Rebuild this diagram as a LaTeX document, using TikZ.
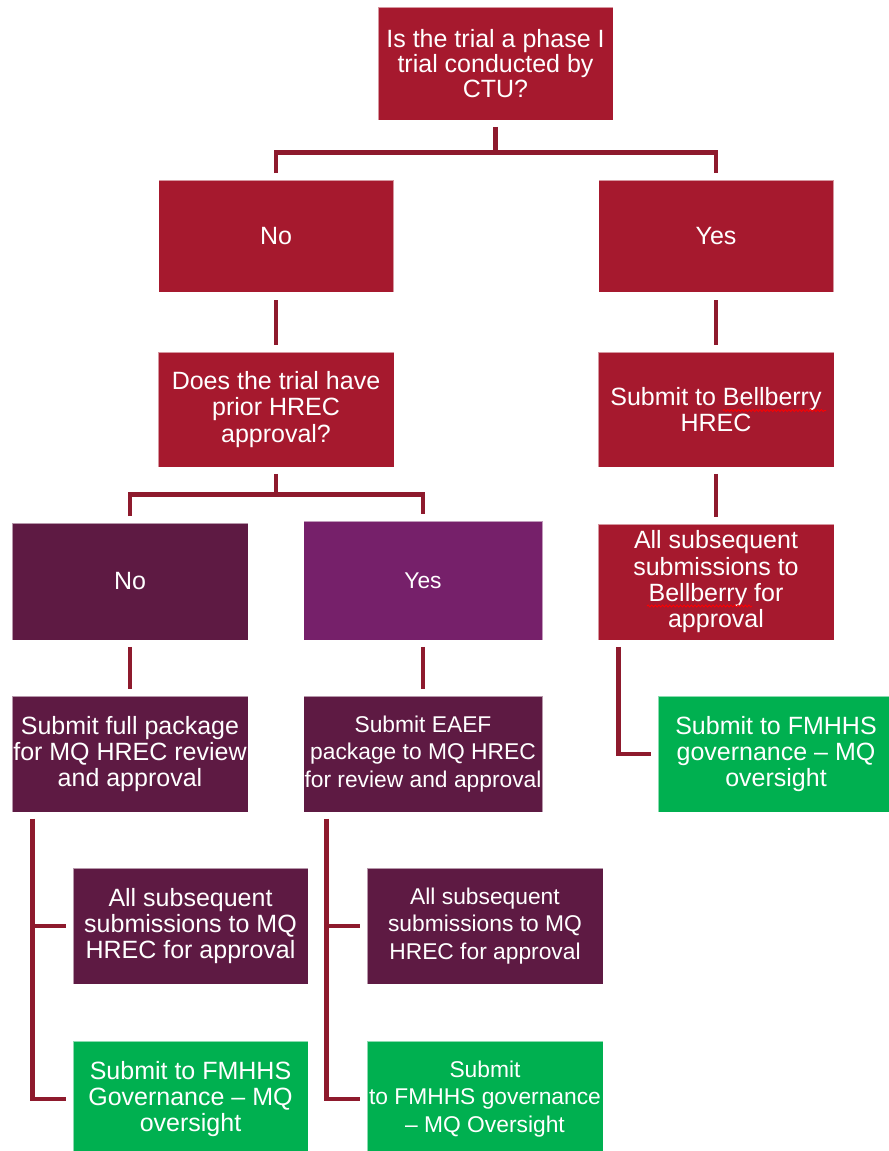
\documentclass[tikz,border=0pt]{standalone}
\usepackage{fontspec}
\setmainfont{Liberation Sans}
\usetikzlibrary{calc,decorations.pathmorphing}

\definecolor{mqred}{HTML}{A6192E}
\definecolor{mqplum}{HTML}{5E1A43}
\definecolor{mqpurple}{HTML}{76206A}
\definecolor{mqgreen}{HTML}{00B050}
\definecolor{linkred}{HTML}{8E1A2D}

\begin{document}
\begin{tikzpicture}[x=0.75pt,y=-0.75pt,
  link/.style={draw=linkred, line width=3.6pt, shorten <=5pt, shorten >=5pt},
  wavy/.style={draw=red, line width=0.6pt, decorate,
    decoration={snake, segment length=2.7pt, amplitude=0.8pt}},
  small/.style={font=\fontsize{17.1pt}{20.5pt}\selectfont}]
\useasboundingbox (0,0) rectangle (888,1151);
\begin{scope}[every node/.style={rectangle, draw=white, draw opacity=0.55, line width=0.4pt,
    text=white, align=center, inner sep=0pt, minimum width=177pt, minimum height=87pt,
    font=\fontsize{18.75pt}{19.75pt}\selectfont}]

    \node [fill=mqred, minimum width=176.25pt, minimum height=84.75pt,
      font=\fontsize{18.75pt}{18.75pt}\selectfont] (q1) at (495.5,63.5)
      {Is the trial a phase I\\trial conducted by\\CTU?};
    \node [fill=mqred, minimum width=176.25pt, minimum height=84pt] (no1) at (276,236) {No};
    \node [fill=mqred, minimum width=176.25pt, minimum height=84pt] (yes1) at (716,236) {Yes};

    \node [fill=mqred, minimum height=86.25pt] (q2) at (276,409.5)
      {Does the trial have\\prior HREC\\approval?};
    \node [fill=mqred, minimum height=86.25pt] (bell) at (716,409.5)
      {Submit to Bellberry\\HREC};

    \node [fill=mqplum, minimum height=87.75pt] (no2) at (130,581.5) {No};
    \node [fill=mqpurple, small, minimum width=179.25pt, minimum height=89.25pt] (yes2) at (423,580.5) {Yes};
    \node [fill=mqred] (bell2) at (716,582)
      {All subsequent\\submissions to\\Bellberry for\\approval};

    \node [fill=mqplum] (a) at (130,754)
      {Submit full package\\for MQ HREC review\\and approval};
    \node [fill=mqplum, small, minimum width=179.25pt] (b) at (423,754)
      {Submit EAEF\\package to MQ HREC\\for review and approval};
    \node [fill=mqgreen] (g1) at (776,754)
      {Submit to FMHHS\\governance -- MQ\\oversight};

    \node [fill=mqplum, minimum width=176.25pt] (c) at (190.5,926)
      {All subsequent\\submissions to MQ\\HREC for approval};
    \node [fill=mqplum, small] (e) at (485,926)
      {All subsequent\\submissions to MQ\\HREC for approval};

    \node [fill=mqgreen, minimum width=176.25pt] (d) at (190.5,1099)
      {Submit to FMHHS\\Governance -- MQ\\oversight};
    \node [fill=mqgreen, small] (f) at (485,1099)
      {Submit\\to FMHHS governance\\-- MQ Oversight};

\end{scope}

    % forks
    \coordinate (f1) at ($(q1.south)+(0,32)$);
    \coordinate (f2) at ($(q2.south)+(0,27)$);
    \draw [link, shorten >=0pt] (q1.south) -- (f1);
    \draw [link] (no1.north) |- (f1) -| (yes1.north);
    \draw [link, shorten >=0pt] (q2.south) -- (f2);
    \draw [link] (no2.north) |- (f2) -| (yes2.north);

    % straight links
    \draw [link, shorten <=6pt] (no1) -- (q2);
    \draw [link, shorten <=6pt] (yes1) -- (bell);
    \draw [link] (bell) -- (bell2);
    \draw [link] (no2) -- (a);
    \draw [link] (yes2) -- (b);

    % elbows
    \draw [link] ($(a.south west)+(21,0)$) |- (c.west);
    \draw [link] ($(a.south west)+(21,0)$) |- (d.west);
    \draw [link] ($(b.south west)+(23,0)$) |- (e.west);
    \draw [link] ($(b.south west)+(23,0)$) |- (f.west);
    \draw [link] ($(bell2.south west)+(21,0)$) |- (g1.west);

    % spell-check marks
    \draw [wavy] ($(bell.center)+(7,1)$) -- ($(bell.center)+(110,1)$);
    \draw [wavy] ($(bell2.center)+(-69,24)$) -- ($(bell2.center)+(36,24)$);

\end{tikzpicture}
\end{document}
